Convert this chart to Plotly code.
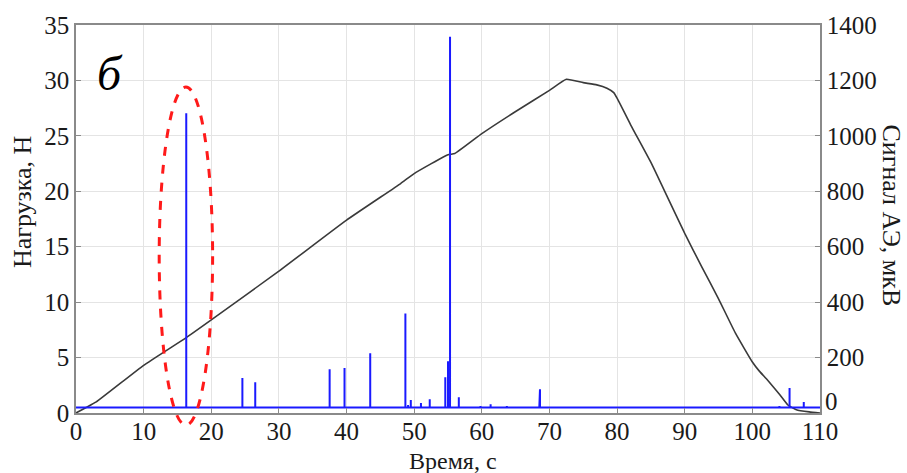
import plotly.graph_objects as go

# ---- data ----
# Load curve, Н vs time, с
load_time = [0, 1.5, 3, 10, 16.3, 20, 30, 40, 48, 50, 55, 56, 60, 65, 70, 72.5,
             75, 77, 78.5, 79.5, 80, 82, 85, 87.5, 90, 92.5, 95, 97.5, 100, 101,
             102.2, 104, 105.3, 106.5, 108.4, 110]
load_value = [0.0, 0.5, 1.0, 4.3, 6.8, 8.4, 12.8, 17.4, 20.7, 21.6, 23.3, 23.4, 25.2, 27.2, 29.1, 30.1,
              29.8, 29.6, 29.3, 28.9, 28.4, 26.0, 22.6, 19.4, 16.2, 13.2, 10.3, 7.2, 4.6, 3.8,
              3.0, 1.7, 0.7, 0.3, 0.1, 0.0]

# Acoustic emission bursts: time, с and amplitude, мкВ
ae_time = [16.3, 24.6, 26.5, 37.5, 39.7, 43.5, 48.7, 49.1, 49.5, 51.0, 52.3,
           54.6, 55.0, 55.3, 56.6, 59.8, 61.3, 63.7, 68.5, 68.6, 104.0, 105.5, 107.6]
ae_value = [1082, 126, 111, 158, 162, 216, 359, 29, 47, 36, 50,
            129, 187, 1358, 57, 25, 32, 25, 36, 86, 25, 90, 40]
ae_baseline = 20
time_range = [0, 110]
load_range = [0, 35]
ae_range = [0, 1400]
ae_ticks = [200, 400, 600, 800, 1000, 1200, 1400]   # "0" drawn separately, raised as in original

# highlighted region (ellipse) in data units
ellipse_time = (12.3, 20.2)
ellipse_load = (-1.1, 29.4)

# ---- build spike trace ----
ae_x, ae_y = [time_range[0]], [ae_baseline]
for t, v in zip(ae_time, ae_value):
    ae_x += [t, t, t]
    ae_y += [ae_baseline, v, ae_baseline]
ae_x.append(time_range[1])
ae_y.append(ae_baseline)

FONT = "Liberation Serif"
TXT = "#1a1a1a"

fig = go.Figure()
fig.add_trace(go.Scatter(x=load_time, y=load_value, mode="lines",
                         line=dict(color="#3a3a3a", width=1.6, shape="spline", smoothing=0.4),
                         yaxis="y", showlegend=False))
fig.add_trace(go.Scatter(x=ae_x, y=ae_y, mode="lines",
                         line=dict(color="#1a1aff", width=2), yaxis="y2", showlegend=False))

axis_common = dict(showline=True, linecolor="#8a8a8a", linewidth=1.5,
                   ticks="inside", ticklen=5, tickcolor="#8a8a8a",
                   tickfont=dict(family=FONT, size=25, color=TXT),
                   zeroline=False)

fig.update_layout(
    width=907, height=473,
    margin=dict(l=76, r=87, t=23, b=60),
    paper_bgcolor="white", plot_bgcolor="white",
    xaxis=dict(range=time_range, dtick=10, tick0=0, showgrid=True, gridcolor="#e4e4e4",
               mirror=True, ticklabelstandoff=-5, **axis_common),
    yaxis=dict(range=load_range, dtick=5, tick0=0, showgrid=True, gridcolor="#e4e4e4",
               mirror=True, **axis_common),
    yaxis2=dict(range=ae_range, tickvals=ae_ticks, overlaying="y", side="right",
                showgrid=False, **axis_common),
)

# ellipse in axis-domain units (not clipped)
fig.add_shape(type="circle", xref="x domain", yref="y domain",
              x0=(ellipse_time[0] - time_range[0]) / (time_range[1] - time_range[0]),
              x1=(ellipse_time[1] - time_range[0]) / (time_range[1] - time_range[0]),
              y0=(ellipse_load[0] - load_range[0]) / (load_range[1] - load_range[0]),
              y1=(ellipse_load[1] - load_range[0]) / (load_range[1] - load_range[0]),
              line=dict(color="#ff1a1a", width=3, dash="dash"))

# raised "0" label on the right axis
fig.add_annotation(text="0", xref="paper", yref="y2", x=1.0, y=ae_range[0] + 40,
                   xanchor="left", yanchor="middle", xshift=3, showarrow=False,
                   font=dict(family=FONT, size=25, color=TXT))

fig.add_annotation(text="Нагрузка, Н", xref="paper", yref="paper", x=-0.071, y=0.544,
                   textangle=-90, showarrow=False, xanchor="center", yanchor="middle",
                   font=dict(family=FONT, size=26, color=TXT))
fig.add_annotation(text="Сигнал АЭ, мкВ", xref="paper", yref="paper", x=1.096, y=0.508,
                   textangle=90, showarrow=False, xanchor="center", yanchor="middle",
                   font=dict(family=FONT, size=26, color=TXT))
fig.add_annotation(text="Время, с", xref="paper", yref="paper", x=0.507, y=-0.124,
                   showarrow=False, xanchor="center", yanchor="middle",
                   font=dict(family=FONT, size=24, color=TXT))
fig.add_annotation(text="<i>б</i>", xref="paper", yref="paper", x=0.046, y=0.874,
                   showarrow=False, xanchor="center", yanchor="middle",
                   font=dict(family=FONT, size=48, color="black"))

fig.write_html("out.html", config={"displayModeBar": False},
               post_script="document.body.style.margin='0';document.body.style.overflow='hidden';")
